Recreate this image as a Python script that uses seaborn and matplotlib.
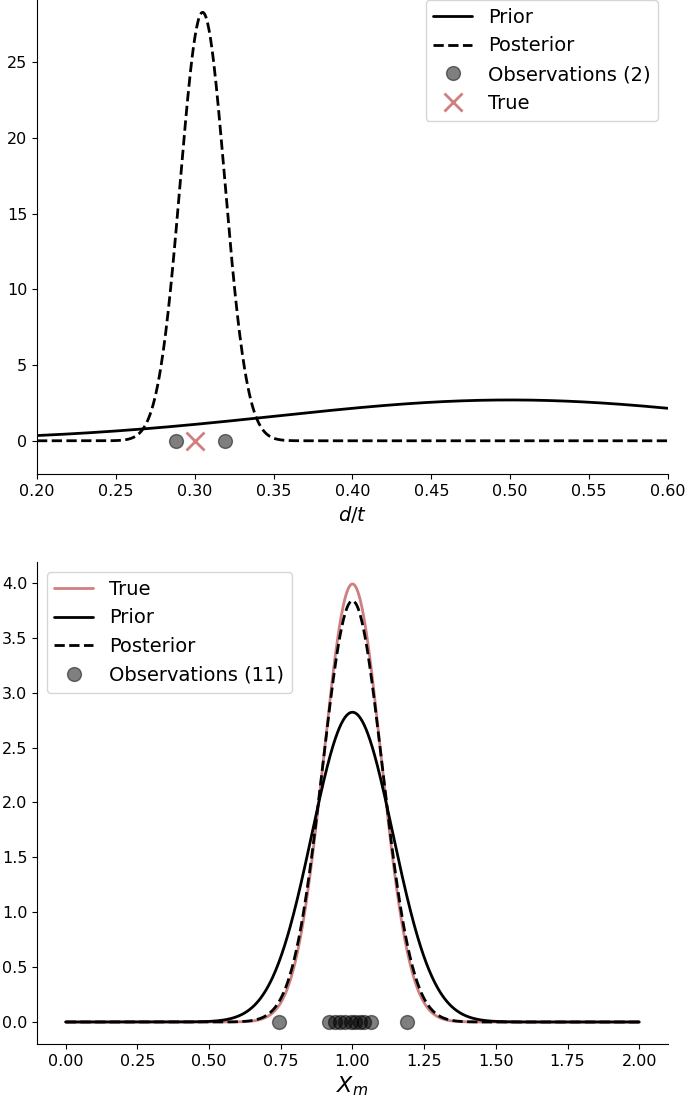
import numpy as np
import pandas as pd
import matplotlib.pyplot as plt
import seaborn as sns
from matplotlib.lines import Line2D

# top panel (d/t), normal densities
dt_prior_mean, dt_prior_sd = 0.50, 0.148
dt_post_mean, dt_post_sd = 0.305, 0.0141
dt_obs = [0.288, 0.319]
dt_true = 0.30

# bottom panel (X_m)
xm_true_mean, xm_true_sd = 1.0, 0.100
xm_prior_mean, xm_prior_sd = 1.0, 0.1414
xm_post_mean, xm_post_sd = 1.0, 0.104
xm_obs = [0.745, 0.92, 0.94, 0.955, 0.975, 0.995, 1.01, 1.025, 1.04, 1.065, 1.19]

true_color = '#cf7f7f'


def normal_pdf(x, mu, sd):
    return np.exp(-0.5 * ((x - mu) / sd) ** 2) / (sd * np.sqrt(2 * np.pi))


sns.set_style('ticks', rc={'axes.edgecolor': 'k', 'text.color': 'k',
                           'xtick.color': 'k', 'ytick.color': 'k',
                           'axes.labelcolor': 'k'})
plt.rcParams['font.family'] = ['DejaVu Sans']

fig = plt.figure(figsize=(6.85, 11), dpi=100)
ax1 = fig.add_axes([0.054, 0.569, 0.921, 0.440])
ax2 = fig.add_axes([0.054, 0.051, 0.921, 0.438])

# --- top panel
x1 = np.linspace(0.2, 0.6, 800)
top = pd.DataFrame({'x': x1,
                    'prior': normal_pdf(x1, dt_prior_mean, dt_prior_sd),
                    'post': normal_pdf(x1, dt_post_mean, dt_post_sd)})
sns.lineplot(data=top, x='x', y='prior', ax=ax1, color='k', lw=2)
sns.lineplot(data=top, x='x', y='post', ax=ax1, color='k', lw=2, linestyle='--')
ax1.plot(dt_obs, np.zeros(len(dt_obs)), 'o', color='k', alpha=0.5, ms=10)
ax1.plot([dt_true], [0], 'x', color=true_color, ms=13, mew=2)
ax1.set_xlim(0.2, 0.6)
ax1.set_ylim(-2.2, 29.76)
ax1.set_xlabel('$d/t$', fontsize=14)
ax1.set_ylabel('')
handles1 = [Line2D([], [], color='k', lw=2),
            Line2D([], [], color='k', lw=2, ls='--'),
            Line2D([], [], marker='o', ls='', color='k', alpha=0.5, ms=10),
            Line2D([], [], marker='x', ls='', color=true_color, ms=13, mew=2)]
ax1.legend(handles1, ['Prior', 'Posterior', f'Observations ({len(dt_obs)})', 'True'],
           loc='upper right', fontsize=14)

# --- bottom panel
x2 = np.linspace(0, 2, 1000)
bot = pd.DataFrame({'x': x2,
                    'true': normal_pdf(x2, xm_true_mean, xm_true_sd),
                    'prior': normal_pdf(x2, xm_prior_mean, xm_prior_sd),
                    'post': normal_pdf(x2, xm_post_mean, xm_post_sd)})
sns.lineplot(data=bot, x='x', y='true', ax=ax2, color=true_color, lw=2)
sns.lineplot(data=bot, x='x', y='prior', ax=ax2, color='k', lw=2)
sns.lineplot(data=bot, x='x', y='post', ax=ax2, color='k', lw=2, linestyle='--')
ax2.plot(xm_obs, np.zeros(len(xm_obs)), 'o', color='k', alpha=0.5, ms=10)
ax2.set_xlabel('$X_m$', fontsize=16)
ax2.set_ylabel('')
handles2 = [Line2D([], [], color=true_color, lw=2),
            Line2D([], [], color='k', lw=2),
            Line2D([], [], color='k', lw=2, ls='--'),
            Line2D([], [], marker='o', ls='', color='k', alpha=0.5, ms=10)]
ax2.legend(handles2, ['True', 'Prior', 'Posterior', f'Observations ({len(xm_obs)})'],
           loc='upper left', fontsize=14)

for ax in (ax1, ax2):
    ax.tick_params(labelsize=11.5)
    sns.despine(ax=ax)

fig.savefig('out.png', dpi=100)
